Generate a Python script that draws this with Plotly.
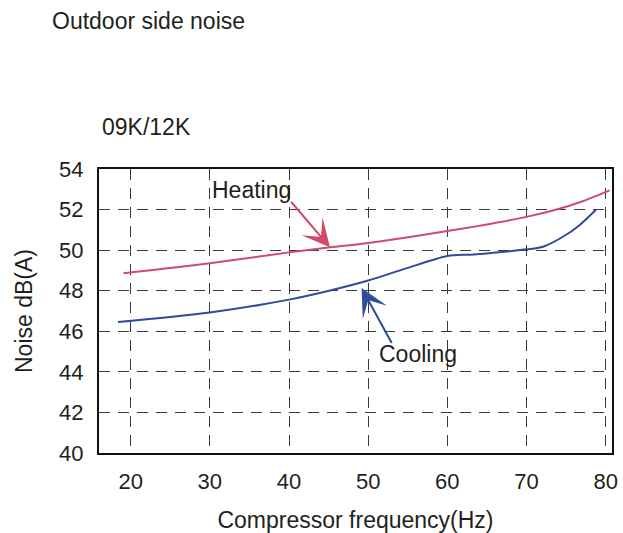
import plotly.graph_objects as go

# Data
heat_x = [19.1, 30, 40, 45.2, 50, 60, 70, 73.8, 77, 80.5]
heat_y = [48.86, 49.35, 49.89, 50.14, 50.35, 50.94, 51.64, 52.0, 52.4, 52.95]

cool_x = [18.4, 30, 40, 45.2, 50, 54.8, 60, 63.3, 70, 72.1, 74.6, 76.7, 78.8]
cool_y = [46.46, 46.93, 47.56, 48.01, 48.5, 49.1, 49.71, 49.79, 50.04, 50.17, 50.66, 51.23, 52.0]

x_ticks = [20, 30, 40, 50, 60, 70, 80]
y_ticks = [40, 42, 44, 46, 48, 50, 52, 54]

FONT = "Liberation Sans, Arial, sans-serif"
TXT = "#231f20"
RED = "#d24a6a"
BLUE = "#2f4b9b"
FS = 23

L, R, T, B = 99, 11, 169, 80
W, H = 623, 533
PW, PH = W - L - R, H - T - B


def px(xp):
    return (xp - L) / PW


def py(yp):
    return 1 - (yp - T) / PH


fig = go.Figure()
fig.add_trace(go.Scatter(x=heat_x, y=heat_y, mode="lines",
                         line=dict(color=RED, width=2, shape="spline", smoothing=0.8),
                         hoverinfo="skip", showlegend=False))
fig.add_trace(go.Scatter(x=cool_x, y=cool_y, mode="lines",
                         line=dict(color=BLUE, width=2, shape="spline", smoothing=0.8),
                         hoverinfo="skip", showlegend=False))

grid = dict(showgrid=True, gridcolor="#3a3a3a", griddash="11px,8px", gridwidth=1.2,
            showline=True, linecolor="#111", linewidth=2, mirror=True, zeroline=False,
            automargin=False, ticks="", tickfont=dict(family=FONT, size=22, color=TXT))

fig.update_xaxes(range=[16.0, 80.8], tickvals=x_ticks, ticklabelstandoff=8,
                 title=dict(text="Compressor frequency(Hz)", standoff=18,
                            font=dict(family=FONT, size=FS, color=TXT)), **grid)
fig.update_yaxes(range=[40, 54], tickvals=y_ticks, ticklabelstandoff=9,
                 title=dict(text="Noise dB(A)", standoff=20,
                            font=dict(family=FONT, size=FS, color=TXT)), **grid)

fig.add_annotation(text="Outdoor side noise", xref="paper", yref="paper",
                   x=px(50), y=py(21), xanchor="left", yanchor="middle",
                   showarrow=False, font=dict(family=FONT, size=FS, color=TXT))
fig.add_annotation(text="09K/12K", xref="paper", yref="paper",
                   x=px(100), y=py(127), xanchor="left", yanchor="middle",
                   showarrow=False, font=dict(family=FONT, size=FS, color=TXT))
fig.add_annotation(text="Heating", x=30.0, y=52.95, xanchor="left", yanchor="middle",
                   showarrow=False, font=dict(family=FONT, size=FS, color=TXT))
fig.add_annotation(text="Cooling", x=51.1, y=44.86, xanchor="left", yanchor="middle",
                   showarrow=False, font=dict(family=FONT, size=FS, color=TXT))
# arrows
fig.add_annotation(x=45.17, y=50.14, ax=40.1, ay=52.46, xref="x", yref="y", axref="x", ayref="y",
                   text="", showarrow=True, arrowhead=3, arrowsize=2.3, arrowwidth=2, arrowcolor=RED)
fig.add_annotation(x=49.17, y=48.13, ax=53.08, ay=45.35, xref="x", yref="y", axref="x", ayref="y",
                   text="", showarrow=True, arrowhead=3, arrowsize=2.3, arrowwidth=2, arrowcolor=BLUE)

fig.update_layout(width=W, height=H, margin=dict(l=L, r=R, t=T, b=B),
                  plot_bgcolor="white", paper_bgcolor="white", showlegend=False)

fig.write_html("out.html", config={"displayModeBar": False},
               post_script="document.body.style.margin='0';document.body.style.overflow='hidden';")
